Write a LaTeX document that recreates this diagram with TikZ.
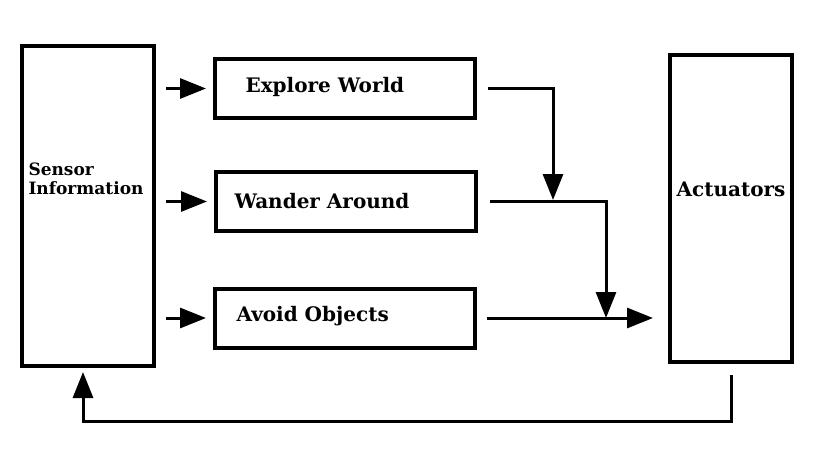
\documentclass[tikz,border=0pt]{standalone}
\usepackage{fontspec}
\setmainfont{DejaVu Serif}
\usetikzlibrary{arrows.meta}

\tikzset{
  block/.style={draw, line width=4pt, inner sep=0pt},
  behaviour/.style={block, minimum width=260pt, minimum height=59pt},
  tag/.style={anchor=west, font=\bfseries\fontsize{20}{24}\selectfont},
  flow/.style={line width=3pt, -{Triangle[length=26pt,width=20pt]}}
}

\begin{document}
\begin{tikzpicture}[x=1pt,y=-1pt]
\useasboundingbox (0,0) rectangle (819,460);
\node[block, minimum width=132pt, minimum height=320pt,
  label={[anchor=west, xshift=5pt, yshift=27pt, align=left, font=\bfseries\fontsize{17}{19}\selectfont]west:Sensor\\Information}] (sensor) at (88,206) {};
\node[block, minimum width=122pt, minimum height=307pt,
  label={[yshift=19pt, font=\bfseries\fontsize{20}{24}\selectfont]center:Actuators}] (actuators) at (731,208.5) {};
\node[behaviour, label={[tag, xshift=29pt, yshift=2pt]west:Explore World}] (explore) at (345,88.5) {};
\node[behaviour, label={[tag, xshift=17pt]west:Wander Around}] (wander) at (346,201.5) {};
\node[behaviour, label={[tag, xshift=20pt, yshift=2pt]west:Avoid Objects}] (avoid) at (345,318) {};
\coordinate (join1) at (553,200);
\coordinate (join2) at (606,318);
\draw[flow, shorten <=10pt, shorten >=7pt] (sensor.east |- explore) -- (explore);
\draw[flow, shorten <=10pt, shorten >=7pt] (sensor.east |- wander) -- (wander);
\draw[flow, shorten <=10pt, shorten >=7pt] (sensor.east |- avoid) -- (avoid);
\draw[flow, shorten <=11pt] (explore.east) -| (join1);
\draw[flow, shorten <=12pt] (wander.east) -| (join2);
\draw[flow, shorten <=10pt, shorten >=15pt] (avoid.east) -- (actuators.west |- avoid);
\draw[flow, shorten <=11pt, shorten >=4pt] (actuators.south) -- ++(0,57) -| ([xshift=-5pt]sensor.south);
\end{tikzpicture}
\end{document}
